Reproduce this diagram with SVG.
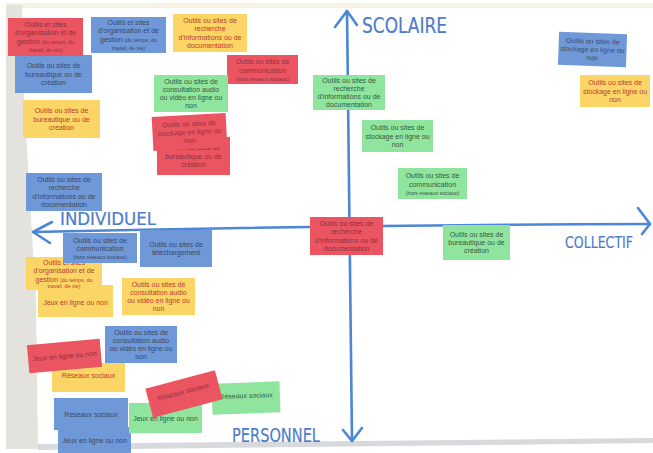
<svg xmlns="http://www.w3.org/2000/svg" width="653" height="453" viewBox="0 0 653 453">
<style>
text{font-family:"Liberation Sans",Arial,sans-serif;font-size:7px;text-anchor:middle}
.s{font-size:5.3px}
.r{fill:#ea5561}.b{fill:#6f98d9}.y{fill:#fbd565}.g{fill:#90e59e}
.tr{fill:#8f3142}.tb{fill:#3c4862}.ty{fill:#b8402e}.tg{fill:#335a40}
.ax{fill:none;stroke:#4c86d6;stroke-width:2.6;stroke-linecap:round;stroke-linejoin:round}
.hw{font-family:"DejaVu Sans","Liberation Sans",sans-serif;fill:#4d7ccc;stroke:#4d7ccc;stroke-width:0.2;text-anchor:start}
</style>
<rect x="0" y="0" width="653" height="453" fill="#ffffff"/>
<rect x="6" y="3" width="647" height="5" fill="#f7f3e3"/>
<polygon points="6,5 22,5 24,100 30,200 36,300 38,449 6,449" fill="#e3e2dc"/>
<polygon points="38,444 653,438 653,443 38,450" fill="#d8d9dd"/>

<g id="axes">
<path class="ax" d="M347,11 Q349,220 352,441"/>
<path class="ax" d="M335,27 L347,11 L357,25"/>
<path class="ax" d="M343,430 L352,441 L362,428"/>
<path class="ax" d="M33,232 Q340,225 650,224"/>
<path class="ax" d="M52,222 L33,232 L50,243"/>
<path class="ax" d="M638,208 L650,224 L642,234"/>
</g>
<g id="labels">
<text class="hw" x="362" y="33" style="font-size:21px" textLength="85" lengthAdjust="spacingAndGlyphs">SCOLAIRE</text>
<text class="hw" x="60" y="225" style="font-size:17px" textLength="96" lengthAdjust="spacingAndGlyphs">INDIVIDUEL</text>
<text class="hw" x="565" y="248" style="font-size:16px" textLength="68" lengthAdjust="spacingAndGlyphs">COLLECTIF</text>
<text class="hw" x="232" y="442" style="font-size:19px" textLength="88" lengthAdjust="spacingAndGlyphs">PERSONNEL</text>
</g>

<g id="n4" transform="translate(53.5,74)"><rect class="b" x="-38.5" y="-19" width="77" height="38"/><text class="tb"><tspan x="0" y="-5.8">Outils ou sites de</tspan><tspan x="0" y="2.5">bureautique ou de</tspan><tspan x="0" y="10.8">création</tspan></text></g>
<g id="n1" transform="translate(45.5,37)"><rect class="r" x="-37.5" y="-19" width="75" height="38"/><text class="tr"><tspan x="0" y="-10">Outils et sites</tspan><tspan x="0" y="-1.7">d'organisation et de</tspan><tspan x="0" y="6.6">gestion <tspan class="s">(du temps, du</tspan></tspan><tspan x="0" y="14.9" class="s">travail, de vie)</tspan></text></g>
<g id="n2" transform="translate(128.5,35)"><rect class="b" x="-37.5" y="-18" width="75" height="36"/><text class="tb"><tspan x="0" y="-10">Outils et sites</tspan><tspan x="0" y="-1.7">d'organisation et de</tspan><tspan x="0" y="6.6">gestion <tspan class="s">(du temps, du</tspan></tspan><tspan x="0" y="14.9" class="s">travail, de vie)</tspan></text></g>
<g id="n3" transform="translate(210,33)"><rect class="y" x="-37" y="-19" width="74" height="38"/><text class="ty"><tspan x="0" y="-10">Outils ou sites de</tspan><tspan x="0" y="-1.7">recherche</tspan><tspan x="0" y="6.6">d'informations ou de</tspan><tspan x="0" y="14.9">documentation</tspan></text></g>
<g id="n5" transform="translate(262.5,69.5)"><rect class="r" x="-35.5" y="-14.5" width="71" height="29"/><text class="tr"><tspan x="0" y="-5.3">Outils ou sites de</tspan><tspan x="0" y="3">communication</tspan><tspan x="0" y="11" class="s">(hors réseaux sociaux)</tspan></text></g>
<g id="n6" transform="translate(191,93.5)"><rect class="g" x="-37" y="-18.5" width="74" height="37"/><text class="tg"><tspan x="0" y="-10">Outils ou sites de</tspan><tspan x="0" y="-1.7">consultation audio</tspan><tspan x="0" y="6.6">ou vidéo en ligne ou</tspan><tspan x="0" y="14.9">non</tspan></text></g>
<g id="n7" transform="translate(61.5,119)"><rect class="y" x="-38.5" y="-19" width="77" height="38"/><text class="ty"><tspan x="0" y="-5.8">Outils ou sites de</tspan><tspan x="0" y="2.5">bureautique ou de</tspan><tspan x="0" y="10.8">création</tspan></text></g>
<g id="n9" transform="translate(193.5,156)"><rect class="r" x="-36.5" y="-19" width="73" height="38"/><text class="tr"><tspan x="0" y="-5.8">Outils ou sites de</tspan><tspan x="0" y="2.5">bureautique ou de</tspan><tspan x="0" y="10.8">création</tspan></text></g>
<g id="n8" transform="translate(189.5,132) rotate(-3)"><rect class="r" x="-37" y="-17" width="74" height="34"/><text class="tr"><tspan x="0" y="-5.8">Outils ou sites de</tspan><tspan x="0" y="2.5">stockage en ligne ou</tspan><tspan x="0" y="10.8">non</tspan></text></g>
<g id="n10" transform="translate(64,192)"><rect class="b" x="-38" y="-19" width="76" height="38"/><text class="tb"><tspan x="0" y="-10">Outils ou sites de</tspan><tspan x="0" y="-1.7">recherche</tspan><tspan x="0" y="6.6">d'informations ou de</tspan><tspan x="0" y="14.9">documentation</tspan></text></g>
<g id="n11" transform="translate(349,92.5)"><rect class="g" x="-36" y="-17.5" width="72" height="35"/><text class="tg"><tspan x="0" y="-10">Outils ou sites de</tspan><tspan x="0" y="-1.7">recherche</tspan><tspan x="0" y="6.6">d'informations ou de</tspan><tspan x="0" y="14.9">documentation</tspan></text></g>
<g id="n12" transform="translate(592.5,49.5) rotate(2)"><rect class="b" x="-34" y="-16.5" width="68" height="33"/><text class="tb"><tspan x="0" y="-5.8">Outils ou sites de</tspan><tspan x="0" y="2.5">stockage en ligne ou</tspan><tspan x="0" y="10.8">non</tspan></text></g>
<g id="n13" transform="translate(615,91)"><rect class="y" x="-35" y="-16" width="70" height="32"/><text class="ty"><tspan x="0" y="-5.8">Outils ou sites de</tspan><tspan x="0" y="2.5">stockage en ligne ou</tspan><tspan x="0" y="10.8">non</tspan></text></g>
<g id="n14" transform="translate(397.5,136)"><rect class="g" x="-35.5" y="-16" width="71" height="32"/><text class="tg"><tspan x="0" y="-5.8">Outils ou sites de</tspan><tspan x="0" y="2.5">stockage en ligne ou</tspan><tspan x="0" y="10.8">non</tspan></text></g>
<g id="n15" transform="translate(432.5,183.5)"><rect class="g" x="-34.5" y="-15.5" width="69" height="31"/><text class="tg"><tspan x="0" y="-5.3">Outils ou sites de</tspan><tspan x="0" y="3">communication</tspan><tspan x="0" y="11" class="s">(hors réseaux sociaux)</tspan></text></g>
<g id="n16" transform="translate(346.5,236)"><rect class="r" x="-36.5" y="-19" width="73" height="38"/><text class="tr"><tspan x="0" y="-10">Outils ou sites de</tspan><tspan x="0" y="-1.7">recherche</tspan><tspan x="0" y="6.6">d'informations ou de</tspan><tspan x="0" y="14.9">documentation</tspan></text></g>
<g id="n17" transform="translate(476.5,242.5)"><rect class="g" x="-33.5" y="-17.5" width="67" height="35"/><text class="tg"><tspan x="0" y="-5.8">Outils ou sites de</tspan><tspan x="0" y="2.5">bureautique ou de</tspan><tspan x="0" y="10.8">création</tspan></text></g>
<g id="n21" transform="translate(75.5,301)"><rect class="y" x="-37.5" y="-16" width="75" height="32"/><text class="ty"><tspan x="0" y="4">Jeux en ligne ou non</tspan></text></g>
<g id="n20" transform="translate(64,273.5)"><rect class="y" x="-38" y="-16.5" width="76" height="33"/><text class="ty"><tspan x="0" y="-8.5">Outils et sites</tspan><tspan x="0" y="-0.2">d'organisation et de</tspan><tspan x="0" y="8.1">gestion <tspan class="s">(du temps, du</tspan></tspan><tspan x="0" y="14.6" class="s">travail, de vie)</tspan></text></g>
<g id="n18" transform="translate(100,248)"><rect class="b" x="-37" y="-15" width="74" height="30"/><text class="tb"><tspan x="0" y="-5.3">Outils ou sites de</tspan><tspan x="0" y="3">communication</tspan><tspan x="0" y="11" class="s">(hors réseaux sociaux)</tspan></text></g>
<g id="n19" transform="translate(176,248.5)"><rect class="b" x="-36" y="-18.5" width="72" height="37"/><text class="tb"><tspan x="0" y="-1.6">Outils ou sites de</tspan><tspan x="0" y="6.7">téléchargement</tspan></text></g>
<g id="n22" transform="translate(158.5,296.5)"><rect class="y" x="-36.5" y="-18.5" width="73" height="37"/><text class="ty"><tspan x="0" y="-10">Outils ou sites de</tspan><tspan x="0" y="-1.7">consultation audio</tspan><tspan x="0" y="6.6">ou vidéo en ligne ou</tspan><tspan x="0" y="14.9">non</tspan></text></g>
<g id="n23" transform="translate(141,344.5)"><rect class="b" x="-36" y="-18.5" width="72" height="37"/><text class="tb"><tspan x="0" y="-10">Outils ou sites de</tspan><tspan x="0" y="-1.7">consultation audio</tspan><tspan x="0" y="6.6">ou vidéo en ligne ou</tspan><tspan x="0" y="14.9">non</tspan></text></g>
<g id="n25" transform="translate(88.5,377.5)"><rect class="y" x="-36.5" y="-14.5" width="73" height="29"/><text class="ty"><tspan x="0" y="0">Réseaux sociaux</tspan></text></g>
<g id="n24" transform="translate(64.5,356) rotate(-5)"><rect class="r" x="-36.5" y="-14" width="73" height="28"/><text class="tr"><tspan x="0" y="2.5">Jeux en ligne ou non</tspan></text></g>
<g id="n27" transform="translate(94.5,441)"><rect class="b" x="-36.5" y="-14" width="73" height="28"/><text class="tb"><tspan x="0" y="2">Jeux en ligne ou non</tspan></text></g>
<g id="n26" transform="translate(91,414)"><rect class="b" x="-37" y="-16" width="74" height="32"/><text class="tb"><tspan x="0" y="2.5">Réseaux sociaux</tspan></text></g>
<g id="n28" transform="translate(165.5,418)"><rect class="g" x="-36.5" y="-15" width="73" height="30"/><text class="tg"><tspan x="0" y="3">Jeux en ligne ou non</tspan></text></g>
<g id="n30" transform="translate(246,398) rotate(-2)"><rect class="g" x="-34" y="-15.5" width="68" height="31"/><text class="tg"><tspan x="0" y="0">Réseaux sociaux</tspan></text></g>
<g id="n29" transform="translate(184,394) rotate(-15)"><rect class="r" x="-36" y="-15" width="72" height="30"/><text class="tr"><tspan x="0" y="0">Réseaux sociaux</tspan></text></g>
</svg>
